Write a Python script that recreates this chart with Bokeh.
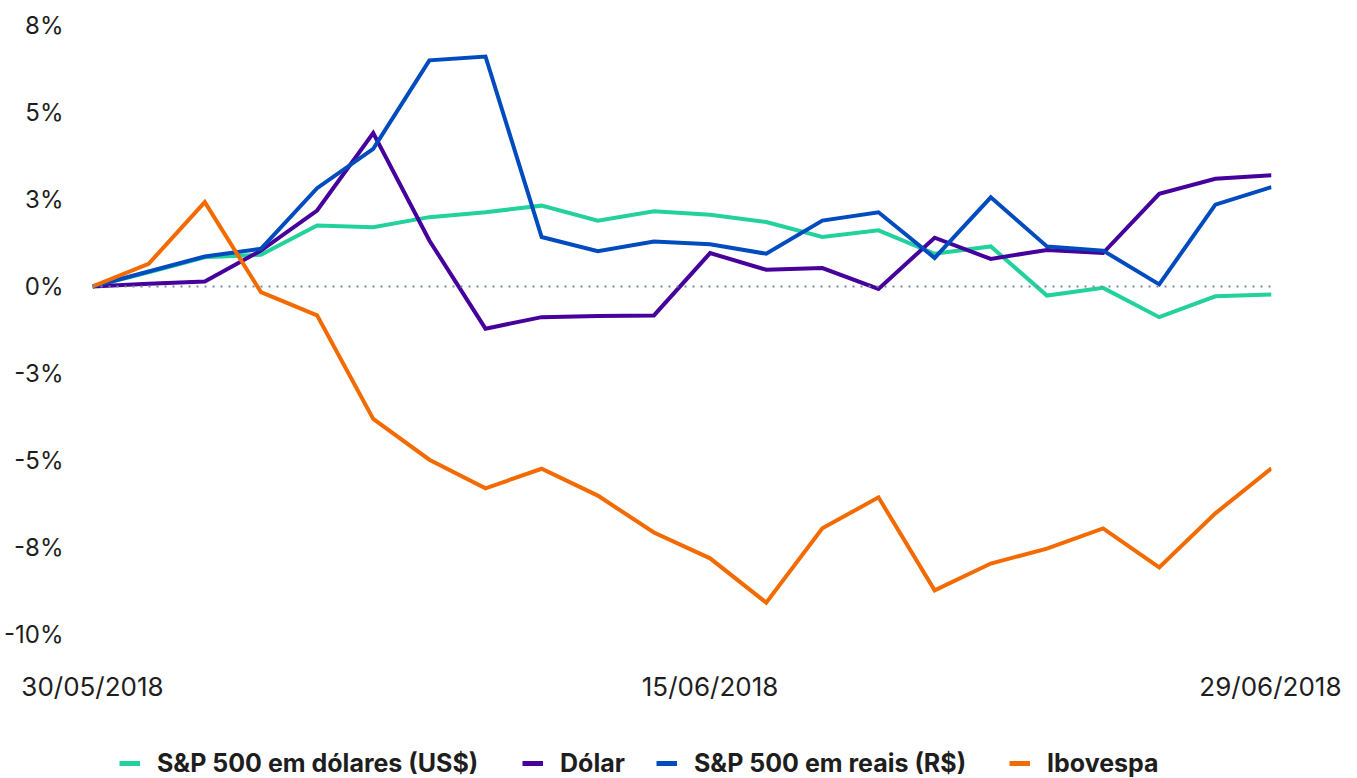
from bokeh.plotting import figure
from bokeh.layouts import column
from bokeh.models import FixedTicker, Span, Legend, LegendItem, Range1d
from bokeh.embed import file_html
from bokeh.resources import INLINE

# Trading days 30/05/2018 .. 29/06/2018
dates = ["30/05/2018", "01/06/2018", "04/06/2018", "05/06/2018", "06/06/2018",
         "07/06/2018", "08/06/2018", "11/06/2018", "12/06/2018", "13/06/2018",
         "14/06/2018", "15/06/2018", "18/06/2018", "19/06/2018", "20/06/2018",
         "21/06/2018", "22/06/2018", "25/06/2018", "26/06/2018", "27/06/2018",
         "28/06/2018", "29/06/2018"]
shown_dates = ["30/05/2018", "15/06/2018", "29/06/2018"]

sp500_usd = [0.0, 0.41, 0.84, 0.91, 1.75, 1.70, 1.99, 2.13, 2.32, 1.89, 2.16,
             2.06, 1.85, 1.42, 1.61, 0.94, 1.15, -0.26, -0.04, -0.88, -0.28, -0.23]
dolar = [0.0, 0.08, 0.14, 1.03, 2.18, 4.40, 1.32, -1.21, -0.88, -0.85, -0.83,
         0.96, 0.48, 0.53, -0.07, 1.40, 0.79, 1.05, 0.96, 2.66, 3.09, 3.19]
sp500_brl = [0.0, 0.43, 0.86, 1.08, 2.82, 3.95, 6.49, 6.60, 1.42, 1.01, 1.29,
             1.21, 0.94, 1.89, 2.13, 0.82, 2.56, 1.15, 1.03, 0.06, 2.35, 2.85]
ibovespa = [0.0, 0.65, 2.42, -0.16, -0.83, -3.80, -4.97, -5.79, -5.23, -6.00, -7.06,
            -7.80, -9.07, -6.94, -6.05, -8.72, -7.95, -7.52, -6.94, -8.06, -6.51, -5.22]

y_ticks = [7.5, 5, 2.5, 0, -2.5, -5, -7.5, -10]
y_tick_labels = ["8%", "5%", "3%", "0%", "-3%", "-5%", "-8%", "-10%"]

series_names = ["S&P 500 em dólares (US$)", "Dólar", "S&P 500 em reais (R$)", "Ibovespa"]
series_colors = ["#22d19c", "#46009b", "#004cbf", "#f36a00"]
series_values = [sp500_usd, dolar, sp500_brl, ibovespa]

x = list(range(len(dates)))

FONT = "Inter"
TEXT = "#1e1e1e"

p = figure(width=1341, height=728, output_backend="svg", toolbar_location=None,
           x_range=Range1d(0, len(dates) - 1), y_range=Range1d(-10.33, 7.862),
           min_border_left=87, min_border_right=70, min_border_top=12,
           min_border_bottom=82)
p.outline_line_color = None
p.xgrid.visible = False
p.ygrid.visible = False

p.add_layout(Span(location=0, dimension="width", line_color="#7b8896",
                  line_width=2, line_dash="2 6"))

for name, color, vals in zip(series_names, series_colors, series_values):
    p.line(x, vals, line_color=color, line_width=4, line_join="miter")

for ax in (p.xaxis[0], p.yaxis[0]):
    ax.axis_line_color = None
    ax.major_tick_line_color = None
    ax.minor_tick_line_color = None
    ax.major_tick_out = 0
    ax.major_tick_in = 0
    ax.minor_tick_out = 0
    ax.minor_tick_in = 0
    ax.major_label_text_font = FONT
    ax.major_label_text_color = TEXT

p.yaxis.major_label_text_font_size = "24px"
p.xaxis.major_label_text_font_size = "26px"

p.yaxis.ticker = FixedTicker(ticks=y_ticks)
p.yaxis.major_label_overrides = {t: l for t, l in zip(y_ticks, y_tick_labels)}
p.yaxis.major_label_standoff = 29

xt = [dates.index(d) for d in shown_dates]
p.xaxis.ticker = FixedTicker(ticks=xt)
p.xaxis.major_label_overrides = {t: d for t, d in zip(xt, shown_dates)}
p.xaxis.major_label_standoff = 24

# legend strip below the chart (its lines lie outside its visible range)
lp = figure(width=1341, height=50, output_backend="svg", toolbar_location=None,
            x_range=Range1d(0, len(dates) - 1), y_range=Range1d(100, 101),
            min_border_left=87, min_border_right=70, min_border_top=0,
            min_border_bottom=0)
lp.outline_line_color = None
lp.axis.visible = False
lp.xgrid.visible = False
lp.ygrid.visible = False

legend_x = [27, 430, 564, 917]
for name, color, vals, lx in zip(series_names, series_colors, series_values, legend_x):
    r = lp.line(x, vals, line_color=color, line_width=5)
    lg = Legend(items=[LegendItem(label=name, renderers=[r])],
                location=(lx, 0), orientation="horizontal",
                label_text_font=FONT, label_text_font_size="25px",
                label_text_font_style="bold", label_text_color=TEXT,
                glyph_width=21, glyph_height=24, label_height=24,
                label_standoff=17, border_line_alpha=0,
                background_fill_alpha=0, padding=0, margin=0)
    lp.add_layout(lg, "center")

layout = column(p, lp, spacing=0)
open("out.html", "w").write(file_html(layout, INLINE))
